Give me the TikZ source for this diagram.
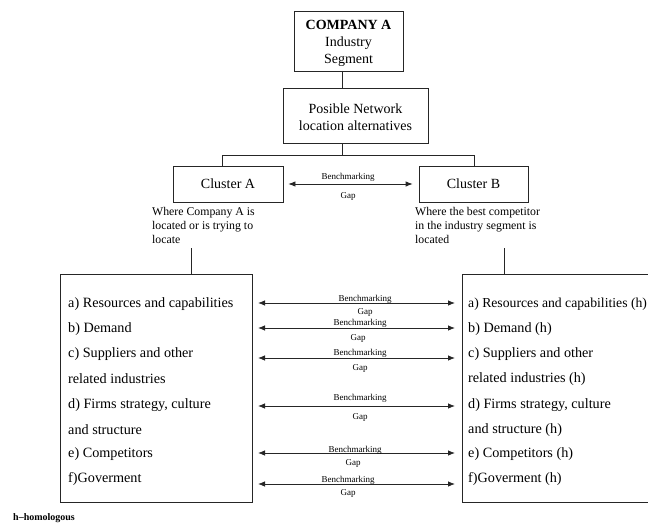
\documentclass[tikz,border=0pt]{standalone}
\usepackage{fontspec}
\setmainfont{Liberation Serif}
\usetikzlibrary{arrows.meta}
\begin{document}
\begin{tikzpicture}[x=1pt,y=-1pt,
  box/.style={draw=black!85,line width=0.8pt,inner sep=0pt},
  main/.style={font=\fontsize{14}{17}\selectfont,inner sep=0pt},
  desc/.style={font=\fontsize{11.8}{14}\selectfont,inner sep=0pt,align=left,anchor=north west},
  item/.style={font=\fontsize{14.2}{16}\selectfont,inner sep=0pt,anchor=west},
  small/.style={font=\fontsize{9}{10}\selectfont,inner sep=0pt},
  conn/.style={draw=black!85,line width=0.8pt},
  gap/.style={conn,{Latex[length=7pt,width=5.5pt]}-{Latex[length=7pt,width=5.5pt]}}
]
\useasboundingbox (0,0) rectangle (648,527);

% top boxes
\node[box,minimum width=109pt,minimum height=60pt] (comp) at (348.5,41) {};
\node[main,align=center] (compt) at (348.5,43) {\textbf{COMPANY A}\\Industry\\Segment};
\node[box,minimum width=145pt,minimum height=55pt] (pos) at (355.5,115.5) {};
\node[main,align=center] (post) at (355.5,117) {Posible Network\\location alternatives};

\coordinate (c1) at (342,71);
\coordinate (c2) at (342,88);
\draw[conn] (c1) -- (c2);
\coordinate (c3) at (342,143);
\coordinate (hmid) at (342,155);
\coordinate (hl) at (222,155);
\coordinate (hr) at (474,155);
\draw[conn] (c3) -- (hmid);
\draw[conn] (hl) -- (hr);

% clusters
\node[box,minimum width=110pt,minimum height=36pt] (ca) at (228,184) {};
\node[main] (cat) at (228,184) {Cluster A};
\node[box,minimum width=109pt,minimum height=36pt] (cb) at (473.5,184) {};
\node[main] (cbt) at (473.5,184) {Cluster B};
\draw[conn] (hl) -- (hl |- ca.north);
\draw[conn] (hr) -- (hr |- cb.north);

\draw[gap] ([xshift=5pt]ca.east) -- ([xshift=-6pt]cb.west);
\node[small] (cl1) at (348,177) {Benchmarking};
\node[small] (cl2) at (348,196) {Gap};

% descriptions
\node[desc] (da) at (152,207) {Where Company A is\\located or is trying to\\locate};
\node[desc] (db) at (415,207) {Where the best competitor\\in the industry segment is\\located};

% factor boxes
\node[box,minimum width=192pt,minimum height=228pt,anchor=north west] (fa) at (60,274) {};
\node[box,minimum width=240pt,minimum height=228pt,anchor=north west] (fb) at (462,274) {};

\coordinate (la) at (191,248);
\coordinate (lb) at (504,248);
\draw[conn] (la) -- (la |- fa.north);
\draw[conn] (lb) -- (lb |- fb.north);

\node[item] (a1) at (68,304) {a) Resources and capabilities};
\node[item] (a2) at (68,329) {b) Demand};
\node[item] (a3) at (68,354) {c) Suppliers and other};
\node[item] (a4) at (68,379) {related industries};
\node[item] (a5) at (68,405) {d) Firms strategy, culture};
\node[item] (a6) at (68,430) {and structure};
\node[item] (a7) at (68,454) {e) Competitors};
\node[item] (a8) at (68,479) {f)Goverment};

\node[item,font=\fontsize{13.7}{16}\selectfont] (b1) at (468,304) {a) Resources and capabilities (h)};
\node[item] (b2) at (468,329) {b) Demand (h)};
\node[item] (b3) at (468,354) {c) Suppliers and other};
\node[item] (b4) at (468,379) {related industries (h)};
\node[item] (b5) at (468,405) {d) Firms strategy, culture};
\node[item] (b6) at (468,430) {and structure (h)};
\node[item] (b7) at (468,454) {e) Competitors (h)};
\node[item] (b8) at (468,479) {f)Goverment (h)};

% gap arrows
\foreach \y/\bx/\by/\gx/\gy [count=\i] in
  {303/365/299/365/312, 328/360/323/358/338, 358/360/353/360/368,
   406/360/398/360/417, 453/355/450/353/463, 484/348/480/348/493}{
  \coordinate (gl\i) at (258,\y);
  \coordinate (gr\i) at (455,\y);
  \draw[gap] (gl\i) -- (gr\i);
  \node[small] (gb\i) at (\bx,\by) {Benchmarking};
  \node[small] (gg\i) at (\gx,\gy) {Gap};
}

\node[anchor=west,inner sep=0pt,font=\fontsize{10}{12}\selectfont\bfseries] (hn) at (13,518) {h--homologous};
\end{tikzpicture}
\end{document}
